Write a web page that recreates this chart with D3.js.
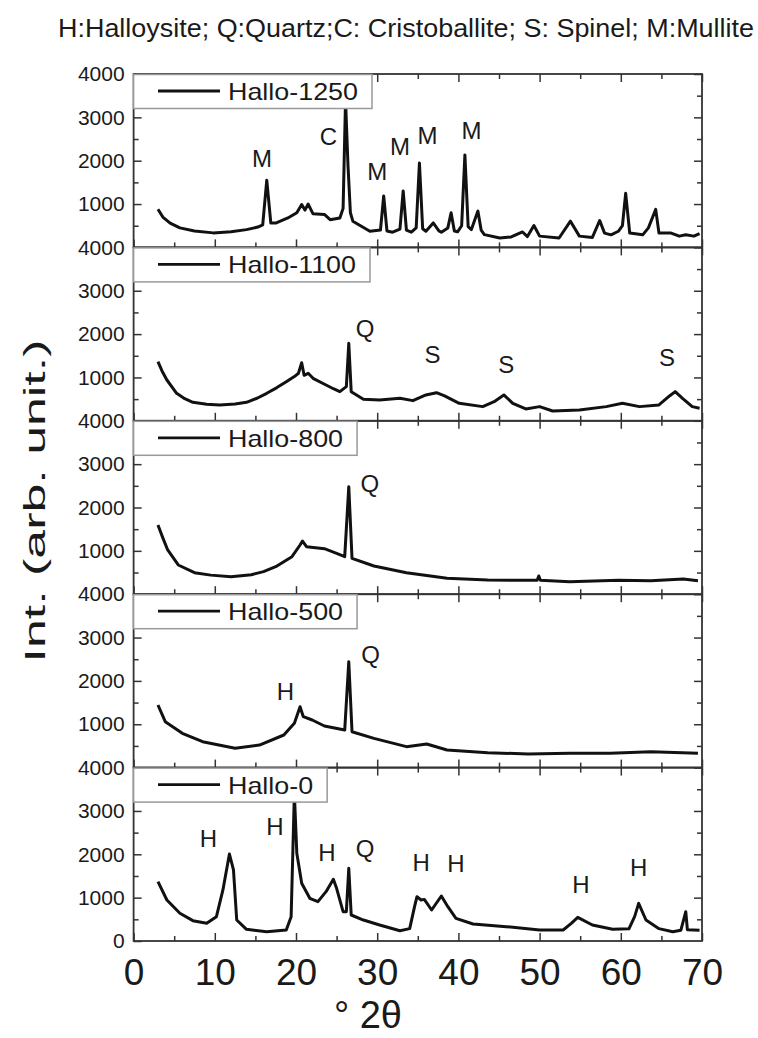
<!DOCTYPE html>
<html>
<head>
<meta charset="utf-8">
<script src="https://cdn.jsdelivr.net/npm/d3@7"></script>
<style>
    body { margin: 0; background: #fff; }
    svg { display: block; font-family: 'Liberation Sans', Arial, sans-serif; }
    .tick line { stroke: #333; stroke-width: 1.5; }
    .domain { display: none; }
    .frame { fill: none; stroke: #333; stroke-width: 1.8; }
    .trace { fill: none; stroke: #111; stroke-width: 3; stroke-linejoin: round; }
    .legendBox { fill: #fff; stroke: #999; stroke-width: 1.5; }
</style>
</head>
<body>
<script>
'use strict';

// sample names, top panel first
const samples = ['Hallo-1250', 'Hallo-1100', 'Hallo-800', 'Hallo-500', 'Hallo-0'];

// [2theta, intensity]
const hallo1250 = [
    [3.0, 880], [3.6, 700], [4.5, 560], [5.7, 450], [7.5, 380], [9.8, 335], [12.0, 360], [13.9, 410],
    [15.3, 470], [15.9, 520], [16.4, 1550], [16.9, 560], [17.5, 560], [19.0, 680], [20.1, 800],
    [20.7, 990], [21.1, 860], [21.5, 1000], [22.1, 775], [23.5, 760], [24.2, 640], [25.4, 680],
    [25.8, 900], [26.1, 3400], [26.4, 1900], [26.7, 800], [27.0, 605], [29.1, 372], [30.4, 400],
    [30.8, 1186], [31.2, 380], [31.9, 350], [32.8, 420], [33.2, 1302], [33.6, 400], [34.2, 350],
    [34.8, 450], [35.2, 1947], [35.6, 430], [36.0, 372], [36.9, 565], [37.6, 380], [37.9, 350],
    [38.7, 450], [39.1, 798], [39.5, 380], [39.9, 360], [40.4, 500], [40.8, 2133], [41.2, 480],
    [41.6, 411], [42.4, 837], [42.8, 400], [43.2, 295], [45.1, 216], [46.5, 240], [47.9, 356],
    [48.5, 250], [49.3, 504], [50.0, 260], [52.4, 216], [53.8, 605], [54.9, 260], [56.5, 230],
    [57.4, 620], [58.0, 330], [58.8, 290], [59.7, 372], [60.2, 500], [60.6, 1248], [61.1, 330],
    [62.7, 290], [63.4, 450], [64.3, 877], [64.7, 330], [66.2, 330], [67.2, 260], [68.0, 290],
    [69.0, 260], [69.7, 320]
];
const hallo1100 = [
    [3.0, 1363], [3.5, 1150], [4.1, 941], [5.3, 634], [6.3, 510], [7.3, 426], [9.0, 380], [10.6, 364],
    [12.5, 390], [13.9, 426], [15.2, 520], [16.4, 634], [17.6, 760], [18.8, 902], [19.8, 1020],
    [20.3, 1096], [20.7, 1340], [21.0, 1050], [21.5, 1096], [22.1, 980], [23.7, 826], [24.6, 740],
    [25.4, 672], [26.2, 787], [26.5, 1788], [26.8, 672], [28.3, 496], [30.3, 480], [32.8, 519],
    [34.4, 465], [36.0, 596], [37.3, 649], [38.3, 573], [40.1, 403], [43.0, 327], [44.4, 442],
    [45.6, 596], [46.7, 403], [48.3, 273], [50.0, 327], [51.6, 227], [54.9, 250], [58.2, 327],
    [60.2, 403], [62.3, 327], [64.7, 365], [66.0, 573], [66.7, 672], [67.6, 519], [68.8, 327],
    [69.7, 288]
];
const hallo800 = [
    [3.0, 1596], [3.6, 1300], [4.2, 1020], [5.5, 674], [7.5, 496], [9.5, 440], [12.0, 404],
    [14.5, 450], [16.0, 520], [17.5, 634], [19.5, 865], [20.5, 1135], [20.8, 1227], [21.3, 1096],
    [23.5, 1050], [25.0, 943], [26.0, 865], [26.5, 2480], [26.9, 827], [29.6, 650], [33.6, 496],
    [38.6, 366], [43.6, 327], [49.7, 320], [49.9, 420], [50.1, 320], [53.7, 288], [59.7, 320],
    [63.7, 310], [67.7, 350], [69.5, 310]
];
const hallo500 = [
    [3.0, 1444], [3.9, 1059], [6.0, 791], [8.5, 598], [12.5, 445], [15.5, 519], [18.5, 752],
    [19.8, 1022], [20.5, 1405], [20.9, 1174], [22.0, 1098], [23.5, 960], [26.0, 867], [26.5, 2443],
    [26.9, 827], [29.6, 675], [33.6, 483], [36.1, 544], [38.6, 406], [43.6, 344], [48.6, 314],
    [53.7, 329], [58.7, 329], [63.7, 367], [69.5, 329]
];
const hallo0 = [
    [3.0, 1368], [4.1, 946], [5.7, 639], [7.3, 469], [9.0, 408], [10.2, 561], [11.0, 1177],
    [11.8, 2007], [12.3, 1638], [12.7, 484], [13.9, 270], [16.4, 215], [18.8, 254], [19.4, 561],
    [19.8, 3400], [20.1, 2023], [20.7, 1331], [21.7, 985], [22.7, 908], [23.7, 1138], [24.6, 1423],
    [25.0, 1215], [25.8, 676], [26.2, 676], [26.5, 1677], [26.8, 600], [28.3, 484], [30.3, 369],
    [32.8, 238], [34.0, 285], [34.6, 792], [34.9, 1022], [35.4, 946], [35.8, 960], [36.7, 715],
    [37.9, 1038], [38.7, 792], [39.7, 523], [41.8, 392], [45.9, 331], [50.0, 254], [52.9, 254],
    [53.9, 408], [54.7, 546], [56.5, 369], [59.0, 270], [61.0, 280], [61.7, 561], [62.2, 869],
    [63.1, 484], [64.7, 285], [66.4, 215], [67.4, 250], [68.0, 676], [68.2, 260], [69.7, 250]
];

// phase letters: [letter, 2theta, intensity]
const labels1250 = [['M', 15.8, 2060], ['C', 24.0, 2550], ['M', 30.0, 1740], ['M', 32.8, 2320], ['M', 36.2, 2590], ['M', 41.6, 2700]];
const labels1100 = [['Q', 28.5, 2140], ['S', 36.8, 1520], ['S', 45.9, 1290], ['S', 65.7, 1450]];
const labels800 = [['Q', 29.1, 2565]];
const labels500 = [['H', 18.7, 1744], ['Q', 29.2, 2598]];
const labels0 = [['H', 9.2, 2376], ['H', 17.4, 2630], ['H', 23.8, 2030], ['Q', 28.5, 2145],
    ['H', 35.4, 1822], ['H', 39.7, 1799], ['H', 55.1, 1292], ['H', 62.2, 1707]];

// tick values
const xMajorTicks = [0, 10, 20, 30, 40, 50, 60, 70];
const xMinorTicks = [5, 15, 25, 35, 45, 55, 65];
const yMajorTicks = [1000, 2000, 3000, 4000];
const yMinorTicks = [500, 1500, 2500, 3500];

const titleText = 'H:Halloysite; Q:Quartz;C: Cristoballite; S: Spinel; M:Mullite';

(function () {

    const series = [hallo1250, hallo1100, hallo800, hallo500, hallo0];
    const labels = [labels1250, labels1100, labels800, labels500, labels0];

    const plot = {
        width: 758,
        height: 1038,
        left: 133.6,
        right: 702,
        top: 74,
        panelHeight: 173.4
    };

    function stretch(text, factor) {
        const w = text.node().getComputedTextLength();
        text.attr('textLength', w * factor).attr('lengthAdjust', 'spacingAndGlyphs');
        return w * factor;
    }

    function drawPanel(svg, i, x) {
        const top = plot.top + i * plot.panelHeight;
        const bottom = top + plot.panelHeight;
        const last = i === samples.length - 1;
        const y = d3.scaleLinear().domain([0, 4000]).range([bottom, top]);
        const g = svg.append('g').attr('class', 'panel');

        g.append('clipPath').attr('id', 'clip' + i)
            .append('rect')
            .attr('x', plot.left).attr('y', top)
            .attr('width', plot.right - plot.left).attr('height', plot.panelHeight);

        g.append('path')
            .datum(series[i])
            .attr('class', 'trace')
            .attr('clip-path', 'url(#clip' + i + ')')
            .attr('d', d3.line().x(d => x(d[0])).y(d => y(d[1])));

        // inward ticks on all four sides
        g.append('g').attr('transform', 'translate(0,' + bottom + ')')
            .call(d3.axisBottom(x).tickValues(xMajorTicks).tickSize(-8).tickPadding(18)
                .tickFormat(last ? d3.format('d') : ''))
            .call(a => a.selectAll('text').attr('font-size', 37).attr('fill', '#1a1a1a'));
        g.append('g').attr('transform', 'translate(0,' + bottom + ')')
            .call(d3.axisBottom(x).tickValues(xMinorTicks).tickSize(-5).tickFormat(''));
        g.append('g').attr('transform', 'translate(0,' + top + ')')
            .call(d3.axisTop(x).tickValues(xMajorTicks).tickSize(-8).tickFormat(''));
        g.append('g').attr('transform', 'translate(0,' + top + ')')
            .call(d3.axisTop(x).tickValues(xMinorTicks).tickSize(-5).tickFormat(''));

        g.append('g').attr('transform', 'translate(' + plot.left + ',0)')
            .call(d3.axisLeft(y).tickValues(last ? [0].concat(yMajorTicks) : yMajorTicks)
                .tickSize(-8).tickPadding(9).tickFormat(d3.format('d')))
            .call(a => a.selectAll('text').attr('font-size', 21).attr('fill', '#1a1a1a'));
        g.append('g').attr('transform', 'translate(' + plot.left + ',0)')
            .call(d3.axisLeft(y).tickValues(yMinorTicks).tickSize(-5).tickFormat(''));
        g.append('g').attr('transform', 'translate(' + plot.right + ',0)')
            .call(d3.axisRight(y).tickValues(yMajorTicks).tickSize(-8).tickFormat(''));
        g.append('g').attr('transform', 'translate(' + plot.right + ',0)')
            .call(d3.axisRight(y).tickValues(yMinorTicks).tickSize(-5).tickFormat(''));

        g.append('rect')
            .attr('class', 'frame')
            .attr('x', plot.left).attr('y', top)
            .attr('width', plot.right - plot.left).attr('height', plot.panelHeight);

        // phase letters over the peaks
        g.append('g').selectAll('text')
            .data(labels[i])
            .join('text')
            .attr('x', d => x(d[1]))
            .attr('y', d => y(d[2]))
            .attr('text-anchor', 'middle')
            .attr('dominant-baseline', 'central')
            .attr('font-size', 24)
            .attr('fill', '#1a1a1a')
            .text(d => d[0]);

        // legend box in the upper left corner
        const legend = g.append('g');
        const box = legend.append('rect').attr('class', 'legendBox')
            .attr('x', plot.left).attr('y', top + 0.5).attr('height', 34);
        legend.append('line')
            .attr('x1', 158).attr('x2', 220)
            .attr('y1', top + 17).attr('y2', top + 17)
            .attr('stroke', '#111').attr('stroke-width', 2.8);
        const label = legend.append('text')
            .attr('x', 228).attr('y', top + 26)
            .attr('font-size', 24)
            .attr('fill', '#1a1a1a')
            .text(samples[i]);
        const w = stretch(label, 1.12);
        box.attr('width', 228 + w + 14 - plot.left);
    }

    function draw() {
        const svg = d3.select('body').append('svg')
            .attr('width', plot.width)
            .attr('height', plot.height);
        svg.append('rect').attr('width', plot.width).attr('height', plot.height).attr('fill', '#fff');

        const x = d3.scaleLinear().domain([0, 70]).range([plot.left, plot.right]);
        samples.forEach((s, i) => drawPanel(svg, i, x));

        svg.append('text')
            .attr('x', 58).attr('y', 37)
            .attr('font-size', 26)
            .attr('fill', '#1a1a1a')
            .attr('textLength', 696).attr('lengthAdjust', 'spacingAndGlyphs')
            .text(titleText);

        svg.append('text')
            .attr('transform', 'translate(45,501) rotate(-90)')
            .attr('text-anchor', 'middle')
            .attr('font-size', 30)
            .attr('fill', '#1a1a1a')
            .attr('textLength', 323).attr('lengthAdjust', 'spacingAndGlyphs')
            .text('Int. (arb. unit.)');

        svg.append('text')
            .attr('x', 368).attr('y', 1028)
            .attr('text-anchor', 'middle')
            .attr('font-size', 38)
            .attr('fill', '#1a1a1a')
            .text('° 2θ');
    }

    draw();

})();
</script>
</body>
</html>
